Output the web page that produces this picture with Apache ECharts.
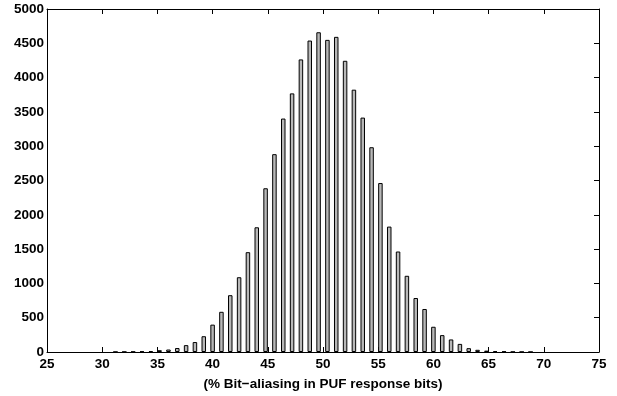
<!DOCTYPE html>
<html>
<head>
<meta charset="utf-8">
<script src="https://cdn.jsdelivr.net/npm/echarts@6/dist/echarts.min.js"></script>
<style>
html,body{margin:0;padding:0;background:#fff;}
#c{width:617px;height:396px;}
</style>
</head>
<body>
<div id="c"></div>
<script>
// Bin centres (% bit-aliasing) and counts
const binCenters = [31.2, 32.0, 32.8, 33.6, 34.4, 35.2, 36.0, 36.8, 37.6, 38.4,
  39.2, 40.0, 40.8, 41.6, 42.4, 43.2, 44.0, 44.8, 45.6, 46.4,
  47.2, 48.0, 48.8, 49.6, 50.4, 51.2, 52.0, 52.8, 53.6, 54.4,
  55.2, 56.0, 56.8, 57.6, 58.4, 59.2, 60.0, 60.8, 61.6, 62.4,
  63.2, 64.0, 64.8, 65.6, 66.4, 67.2, 68.0, 68.8];
const counts = [2, 3, 5, 9, 13, 26, 36, 58, 100, 145,
  230, 399, 586, 828, 1090, 1455, 1818, 2387, 2884, 3403,
  3770, 4265, 4540, 4661, 4550, 4594, 4245, 3824, 3417, 2985,
  2463, 1828, 1465, 1111, 787, 627, 368, 246, 183, 118,
  56, 32, 20, 14, 8, 3, 2, 1];
const xTicks = [25, 30, 35, 40, 45, 50, 55, 60, 65, 70, 75];
const yTicks = [0, 500, 1000, 1500, 2000, 2500, 3000, 3500, 4000, 4500, 5000];
const xLabel = '(% Bit\u2212aliasing in PUF response bits)';

const chart = echarts.init(document.getElementById('c'), null, {renderer: 'canvas'});
const font = {fontFamily: "'Liberation Sans'", fontWeight: 'bold', fontSize: 13.5, color: '#000'};
const line = {show: true, onZero: false, lineStyle: {color: '#000', width: 1}};
const tick = {show: true, inside: true, length: 5, lineStyle: {color: '#000', width: 1}};

chart.setOption({
  animation: false,
  backgroundColor: '#fff',
  grid: {left: 47, right: 18, top: 9, bottom: 43, containLabel: false},
  xAxis: [{
    type: 'value', position: 'bottom',
    min: xTicks[0], max: xTicks[xTicks.length - 1], interval: 5,
    axisLine: line, axisTick: tick, splitLine: {show: false},
    axisLabel: Object.assign({margin: 5, formatter: v => String(v)}, font),
    name: xLabel, nameLocation: 'middle', nameGap: 25,
    nameTextStyle: font
  }, {
    type: 'value', position: 'top',
    min: xTicks[0], max: xTicks[xTicks.length - 1], interval: 5,
    axisLine: line, axisTick: tick, axisLabel: {show: false}, splitLine: {show: false}
  }],
  yAxis: [{
    type: 'value', position: 'left',
    min: yTicks[0], max: yTicks[yTicks.length - 1], interval: 500,
    axisLine: line, axisTick: {show: false}, splitLine: {show: false},
    axisLabel: Object.assign({margin: 3, formatter: v => String(v)}, font)
  }, {
    type: 'value', position: 'right',
    min: yTicks[0], max: yTicks[yTicks.length - 1], interval: 500,
    axisLine: line, axisTick: tick, axisLabel: {show: false}, splitLine: {show: false}
  }],
  series: [{
    type: 'bar',
    xAxisIndex: 0, yAxisIndex: 0,
    barWidth: 4.5,
    data: binCenters.map((x, i) => [x, counts[i]]),
    itemStyle: {color: '#b8b8b8', borderColor: '#000', borderWidth: 1}
  }]
});
</script>
</body>
</html>
